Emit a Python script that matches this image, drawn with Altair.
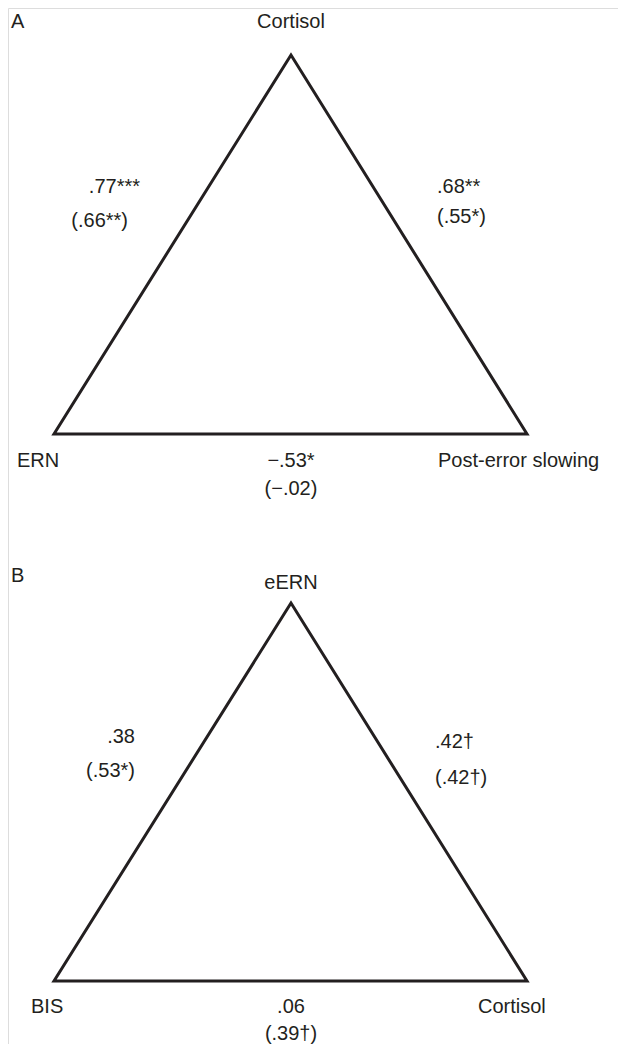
import altair as alt
import pandas as pd

# ---- triangle geometry (diagram coordinates, y grows downward) ----
panel_ids = ["A", "B"]
apex_x = [291, 291]
apex_y = [55, 603]
left_x = [54, 54]
right_x = [527, 527]
base_y = [434, 981]

# ---- node labels ----
top_nodes = ["Cortisol", "eERN"]
left_nodes = ["ERN", "BIS"]
right_nodes = ["Post-error slowing", "Cortisol"]

# ---- correlations: [panel A, panel B] ----
left_edge = [".77***", ".38"]
left_edge_partial = ["(.66**)", "(.53*)"]
right_edge = [".68**", ".42\u2020"]
right_edge_partial = ["(.55*)", "(.42\u2020)"]
base_edge = ["\u2212.53*", ".06"]
base_edge_partial = ["(\u2212.02)", "(.39\u2020)"]

# ---- label anchor positions ----
panel_label_x = [11, 11]
panel_label_y = [28, 582]
top_node_y = [28, 589]
left_node_x = [17, 31]
right_node_x = [438, 478]
node_base_y = [467, 1013]
left_edge_x = [140, 135]
left_edge_partial_x = [128, 135]
left_edge_y = [193, 743]
left_edge_partial_y = [227, 777]
right_edge_x = [437, 435]
right_edge_y = [193, 748]
right_edge_partial_y = [223, 784]
base_partial_y = [495, 1040]

rows = []
for i, p in enumerate(panel_ids):
    rows += [
        {"panel": p, "k": 0, "x": apex_x[i], "y": apex_y[i]},
        {"panel": p, "k": 1, "x": left_x[i], "y": base_y[i]},
        {"panel": p, "k": 2, "x": right_x[i], "y": base_y[i]},
    ]
tri = pd.DataFrame(rows)

center_txt, left_txt, right_txt = [], [], []
for i, p in enumerate(panel_ids):
    center_txt += [
        {"t": top_nodes[i], "x": apex_x[i], "y": top_node_y[i]},
        {"t": base_edge[i], "x": apex_x[i], "y": node_base_y[i]},
        {"t": base_edge_partial[i], "x": apex_x[i], "y": base_partial_y[i]},
    ]
    left_txt += [
        {"t": p, "x": panel_label_x[i], "y": panel_label_y[i]},
        {"t": left_nodes[i], "x": left_node_x[i], "y": node_base_y[i]},
        {"t": right_nodes[i], "x": right_node_x[i], "y": node_base_y[i]},
        {"t": right_edge[i], "x": right_edge_x[i], "y": right_edge_y[i]},
        {"t": right_edge_partial[i], "x": right_edge_x[i], "y": right_edge_partial_y[i]},
    ]
    right_txt += [
        {"t": left_edge[i], "x": left_edge_x[i], "y": left_edge_y[i]},
        {"t": left_edge_partial[i], "x": left_edge_partial_x[i], "y": left_edge_partial_y[i]},
    ]

W, H = 610, 1036
xs = alt.Scale(domain=[8, 8 + W], nice=False, zero=False)
ys = alt.Scale(domain=[8, 8 + H], nice=False, zero=False, reverse=True)
INK = "#231f20"

lines = alt.Chart(tri).mark_line(
    interpolate="linear-closed", strokeWidth=3, color=INK, strokeJoin="miter"
).encode(
    x=alt.X("x:Q", scale=xs, axis=None),
    y=alt.Y("y:Q", scale=ys, axis=None),
    detail="panel:N",
    order="k:Q",
)

def text_layer(data, align):
    return alt.Chart(pd.DataFrame(data)).mark_text(
        align=align, baseline="alphabetic", fontSize=20,
        font="Liberation Sans", color=INK
    ).encode(
        x=alt.X("x:Q", scale=xs, axis=None),
        y=alt.Y("y:Q", scale=ys, axis=None),
        text="t:N",
    )

chart = alt.layer(
    lines,
    text_layer(center_txt, "center"),
    text_layer(left_txt, "left"),
    text_layer(right_txt, "right"),
).properties(
    width=W, height=H, padding=0, autosize=alt.AutoSizeParams(type="none")
).configure_view(stroke=None, strokeWidth=0).configure(background="white")

chart.save("out.html", embed_options={"renderer": "svg", "actions": False})
